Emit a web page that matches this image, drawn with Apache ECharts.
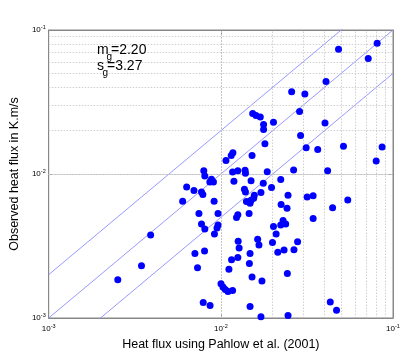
<!DOCTYPE html>
<html>
<head>
<meta charset="utf-8">
<script src="https://cdn.jsdelivr.net/npm/echarts@6/dist/echarts.min.js"></script>
<style>html,body{margin:0;padding:0;background:#fff}#c{width:404px;height:356px}</style>
</head>
<body>
<div id="c"></div>
<script>
// Predicted heat flux (Pahlow et al. 2001), K.m/s
const xVals = [0.00252,0.00346,0.00391,0.0060,0.00633,0.00698,0.00772,0.00786,0.00746,0.00772,
  0.00807,0.00707,0.00732,0.00804,0.00790,0.00866,0.00796,0.00807,0.00863,0.00882,
  0.00906,0.00914,0.00963,0.00963,0.00950,0.00918,0.01002,0.01029,0.01061,0.01100,
  0.01170,0.01114,0.01154,0.01071,0.01149,0.01175,0.01170,0.01191,0.01255,0.01233,
  0.01255,0.01261,0.01277,0.01255,0.01383,0.01390,0.01371,0.01390,0.01408,0.01459,
  0.01478,0.01498,0.01498,0.01518,0.01565,0.01551,0.01478,0.01465,0.01518,0.01478,
  0.01531,0.01600,0.01695,0.01771,0.01771,0.01803,0.01710,0.01764,0.01860,0.01636,
  0.01665,0.01733,0.01710,0.01970,0.02022,0.01995,0.02022,0.02095,0.02142,0.02228,
  0.02239,0.02228,0.02299,0.02381,0.02329,0.02424,0.02434,0.02456,0.02456,0.02578,
  0.02647,0.02659,0.02791,0.02866,0.02905,0.03076,0.03131,0.03172,0.03436,0.03436,
  0.03654,0.04027,0.04081,0.04171,0.04322,0.04458,0.04700,0.04826,0.05157,0.05461,
  0.07181,0.07986,0.08093,0.08644];
// Observed heat flux, K.m/s
const yVals = [0.00184,0.00231,0.00377,0.00647,0.00813,0.00767,0.00751,0.00720,0.00532,0.00449,
  0.00415,0.00281,0.00223,0.00292,0.00128,0.00122,0.01054,0.00969,0.00880,0.00919,
  0.00880,0.00647,0.00532,0.00442,0.00421,0.00383,0.00173,0.00164,0.00158,0.00153,
  0.00155,0.00218,0.00254,0.01243,0.01346,0.01405,0.01032,0.00890,0.01054,0.00499,
  0.00521,0.00341,0.00306,0.00263,0.01060,0.01011,0.00783,0.00751,0.00644,0.00532,
  0.00627,0.00658,0.00899,0.01346,0.00712,0.00679,0.00281,0.00239,0.00193,0.00120,
  0.02627,0.02544,0.02491,0.02205,0.02036,0.01621,0.00743,0.00862,0.01038,0.00352,
  0.00321,0.00181,0.00102,0.00805,0.02288,0.00335,0.00432,0.00383,0.00286,0.00914,
  0.00614,0.00442,0.00476,0.00449,0.00297,0.00579,0.00204,0.00104,0.00712,0.03727,
  0.01066,0.00298,0.00339,0.02712,0.01850,0.03592,0.01521,0.00693,0.00705,0.00491,
  0.01481,0.02264,0.04394,0.01054,0.00129,0.00582,0.00113,0.07350,0.01561,0.00661,
  0.06340,0.01230,0.08090,0.01537];
// Reference lines y = factor * x
const lineFactors = [2, 1, 0.5];
// Axis range and tick labels (powers of ten)
const axisMin = 0.001, axisMax = 0.1;
const tickExponents = ['-3', '-2', '-1'];
const minorMultipliers = [2,3,4,5,6,7,8,9];
const decades = [0.001, 0.01];
// Statistics annotation: symbol, subscript, value text
const statsLabels = [['m', 'g', '=2.20'], ['s', 'g', '=3.27']];

const chart = echarts.init(document.getElementById('c'), null, {renderer: 'canvas'});
const font = 'Liberation Sans, Arial, sans-serif';

const scatterData = xVals.map((x, i) => [x, yVals[i]]);
const gridVals = [];
decades.forEach(d => minorMultipliers.forEach(m => gridVals.push(+(d * m).toPrecision(3))));
gridVals.push(0.01);

function tickLabel(v) {
  const e = Math.round(Math.log10(v));
  return '{b|10}{s|' + tickExponents[e + 3] + '}';
}
const rich = {
  b: {fontSize: 8, fontFamily: font, color: '#000'},
  s: {fontSize: 5.5, fontFamily: font, color: '#000', verticalAlign: 'top', padding: [0,0,6,0]}
};

const gridStyle = {color: '#c4c4c4', width: 0.8, type: [1.5, 1.5]};

const series = [];
series.push({
  type: 'line', data: [], symbol: 'none', silent: true, z: 1,
  markLine: {
    silent: true, symbol: 'none', label: {show: false}, animation: false,
    lineStyle: gridStyle,
    data: gridVals.map(v => ({xAxis: v})).concat(gridVals.map(v => ({yAxis: v})))
  }
});
lineFactors.forEach(f => {
  series.push({
    type: 'line', symbol: 'none', silent: true, z: 2, clip: true,
    lineStyle: {color: '#8c8cff', width: 0.9},
    data: [[axisMin, axisMin * f], [axisMax, axisMax * f]]
  });
});
series.push({
  type: 'scatter', z: 5, symbolSize: 7,
  itemStyle: {color: '#0000ff', opacity: 1},
  data: scatterData
});

const axisCommon = {
  type: 'log', logBase: 10, min: axisMin, max: axisMax,
  axisLine: {show: true, lineStyle: {color: '#888', width: 1}},
  axisTick: {show: true, inside: true, length: 4, lineStyle: {color: '#888'}},
  splitLine: {show: false}
};

const graphics = [];
statsLabels.forEach((s, i) => {
  const base = 57 + i * 16.5;
  const symW = s[0] === 'm' ? 11 : 7;
  graphics.push({type: 'text', x: 97, y: base, z: 10,
    style: {text: s[0], font: '14px ' + font, fill: '#000', verticalAlign: 'bottom'}});
  graphics.push({type: 'text', x: 97 + symW - 1.5, y: base + 5, z: 10,
    style: {text: s[1], font: '10px ' + font, fill: '#000', verticalAlign: 'bottom'}});
  graphics.push({type: 'text', x: 97 + symW + 3, y: base, z: 10,
    style: {text: s[2], font: '14px ' + font, fill: '#000', verticalAlign: 'bottom'}});
});

const option = {
  animation: false,
  backgroundColor: '#fff',
  grid: {left: 46, right: 11, top: 30, bottom: 36, show: true, borderColor: '#888', borderWidth: 1, backgroundColor: 'transparent'},
  xAxis: [Object.assign({}, axisCommon, {
    name: 'Heat flux using Pahlow et al. (2001)', nameLocation: 'middle', nameGap: 20,
    nameTextStyle: {fontSize: 12.5, fontFamily: font, color: '#000'},
    axisLabel: {formatter: tickLabel, rich: rich, margin: 5}
  }), Object.assign({}, axisCommon, {position: 'top', axisLabel: {show: false}})],
  yAxis: [Object.assign({}, axisCommon, {
    name: 'Observed heat flux in K.m/s', nameLocation: 'middle', nameGap: 19,
    nameTextStyle: {fontSize: 12.5, fontFamily: font, color: '#000'},
    axisLabel: {formatter: tickLabel, rich: rich, margin: 3}
  }), Object.assign({}, axisCommon, {position: 'right', axisLabel: {show: false}})],
  graphic: graphics,
  series: series
};
chart.setOption(option);
</script>
</body>
</html>
